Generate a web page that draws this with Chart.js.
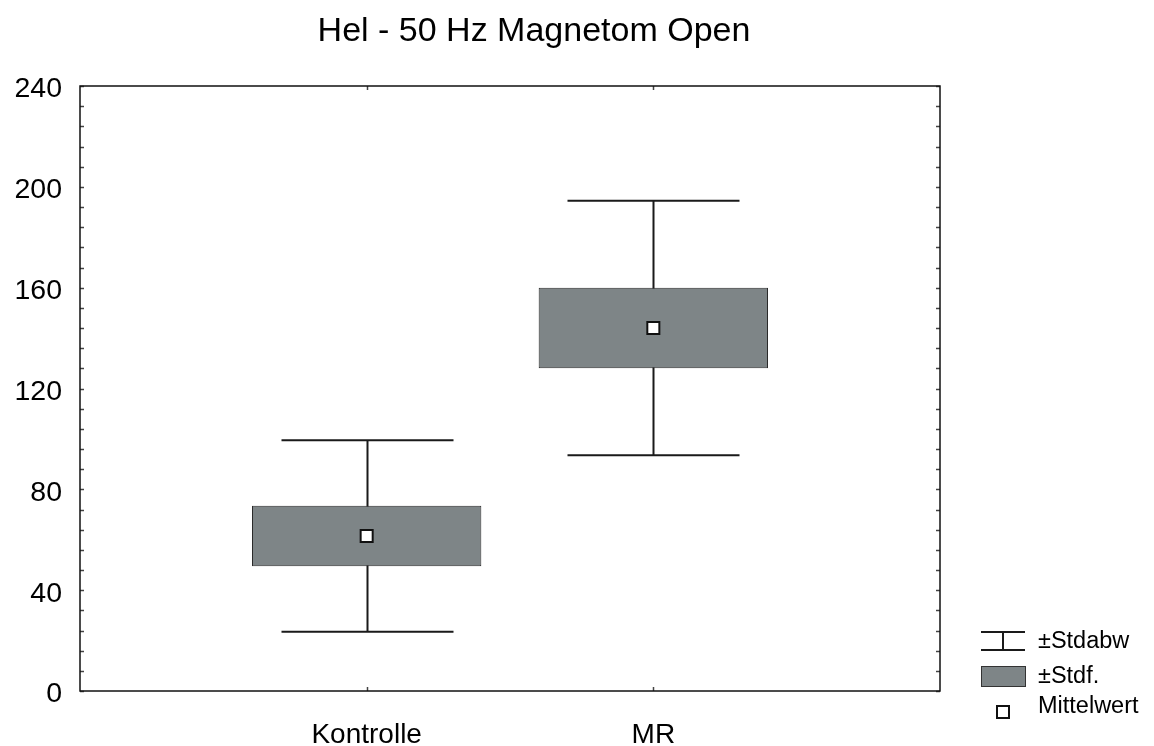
<!DOCTYPE html>
<html>
<head>
<meta charset="utf-8">
<title>Hel - 50 Hz Magnetom Open</title>
<script src="https://cdn.jsdelivr.net/npm/chart.js@4/dist/chart.umd.min.js"></script>
<style>
  body { margin: 0; background: #fff; }
  #wrap { width: 1154px; height: 746px; }
</style>
</head>
<body>
<div id="wrap"><canvas id="boxChart"></canvas></div>
<script>
// Data
const categories = ['Kontrolle', 'MR'];
const means = [61.5, 144];
const stdErr = [12, 16];     // box: mean ± Stdf.
const stdDev = [38, 50.5];   // whiskers: mean ± Stdabw
const yTicks = [0, 40, 80, 120, 160, 200, 240];
const minorStep = 8;
const legendLabels = ['±Stdabw', '±Stdf.', 'Mittelwert'];

const FONT = '"Liberation Sans", Arial, Helvetica, sans-serif';
const BOX_FILL = '#7e8587';

// category axis with an empty slot on each side so the groups sit at 1/3 and 2/3
const axisLabels = [''].concat(categories, ['']);
const pad = arr => [null].concat(arr, [null]);

const boxData = pad(means.map((m, i) => [m - stdErr[i], m + stdErr[i]]));
const meanData = pad(means);

// Whiskers, frame, inner ticks, title and legend
const extrasPlugin = {
  id: 'extras',
  beforeDatasetsDraw(chart) {
    const ctx = chart.ctx;
    const x = chart.scales.x, y = chart.scales.y;
    const half = (x.getPixelForValue(2) - x.getPixelForValue(1)) * 0.3;
    ctx.save();
    ctx.strokeStyle = '#1a1a1a';
    ctx.lineWidth = 2;
    means.forEach((m, i) => {
      const cx = Math.round(x.getPixelForValue(i + 1)) + 0.5;
      const top = y.getPixelForValue(m + stdDev[i]);
      const bot = y.getPixelForValue(m - stdDev[i]);
      ctx.beginPath();
      ctx.moveTo(cx, top); ctx.lineTo(cx, bot);
      ctx.moveTo(cx - half, top); ctx.lineTo(cx + half, top);
      ctx.moveTo(cx - half, bot); ctx.lineTo(cx + half, bot);
      ctx.stroke();
    });
    ctx.restore();
  },
  afterDraw(chart) {
    const ctx = chart.ctx;
    const a = chart.chartArea;
    const x = chart.scales.x, y = chart.scales.y;
    ctx.save();

    // inner ticks
    ctx.strokeStyle = '#444';
    ctx.lineWidth = 1.5;
    ctx.beginPath();
    for (let v = 0; v <= 240; v += minorStep) {
      const py = Math.round(y.getPixelForValue(v)) + 0.5;
      ctx.moveTo(a.left, py); ctx.lineTo(a.left + 4, py);
      ctx.moveTo(a.right, py); ctx.lineTo(a.right - 4, py);
    }
    categories.forEach((c, i) => {
      const px = Math.round(x.getPixelForValue(i + 1)) + 0.5;
      ctx.moveTo(px, a.top); ctx.lineTo(px, a.top + 4);
      ctx.moveTo(px, a.bottom); ctx.lineTo(px, a.bottom - 4);
    });
    ctx.stroke();

    // frame
    ctx.strokeStyle = '#111';
    ctx.lineWidth = 1.5;
    ctx.strokeRect(a.left, a.top, a.right - a.left, a.bottom - a.top);

    // title
    ctx.fillStyle = '#000';
    ctx.font = '34px ' + FONT;
    ctx.textAlign = 'center';
    ctx.textBaseline = 'alphabetic';
    ctx.fillText('Hel - 50 Hz Magnetom Open', 534, 41);

    // legend
    const lx = 981, tx = 1038;
    ctx.font = '23.5px ' + FONT;
    ctx.textAlign = 'left';
    ctx.textBaseline = 'middle';
    ctx.strokeStyle = '#1a1a1a';
    ctx.lineWidth = 2;
    ctx.beginPath();
    ctx.moveTo(lx, 632); ctx.lineTo(lx + 44, 632);
    ctx.moveTo(lx, 650); ctx.lineTo(lx + 44, 650);
    ctx.moveTo(lx + 22, 632); ctx.lineTo(lx + 22, 650);
    ctx.stroke();
    ctx.fillText(legendLabels[0], tx, 642);

    ctx.fillStyle = BOX_FILL;
    ctx.fillRect(lx, 666, 44, 20);
    ctx.strokeStyle = '#333';
    ctx.lineWidth = 1;
    ctx.strokeRect(lx + 0.5, 666.5, 44, 20);
    ctx.fillStyle = '#000';
    ctx.fillText(legendLabels[1], tx, 677);

    ctx.fillStyle = '#fff';
    ctx.fillRect(997, 706, 12, 12);
    ctx.strokeStyle = '#111';
    ctx.lineWidth = 2;
    ctx.strokeRect(997, 706, 12, 12);
    ctx.fillStyle = '#000';
    ctx.fillText(legendLabels[2], tx, 707);

    ctx.restore();
  }
};

const ctx = document.getElementById('boxChart').getContext('2d');
const boxChart = new Chart(ctx, {
  type: 'bar',
  data: {
    labels: axisLabels,
    datasets: [{
      label: '±Stdf.',
      data: boxData,
      backgroundColor: BOX_FILL,
      borderColor: '#2a2a2a',
      borderWidth: 1,
      borderSkipped: false,
      categoryPercentage: 1,
      barPercentage: 0.8,
      order: 2
    }, {
      type: 'line',
      label: 'Mittelwert',
      data: meanData,
      showLine: false,
      pointStyle: 'rect',
      pointRadius: 8.5,
      pointBackgroundColor: '#fff',
      pointBorderColor: '#111',
      pointBorderWidth: 2,
      order: 1
    }]
  },
  options: {
    responsive: true,
    maintainAspectRatio: false,
    animation: false,
    layout: { padding: { top: 86, right: 214, left: 0, bottom: 0 } },
    plugins: {
      legend: { display: false },
      tooltip: { enabled: false },
      title: { display: false }
    },
    scales: {
      x: {
        offset: false,
        grid: { display: false, drawTicks: false },
        border: { display: false },
        ticks: {
          color: '#000',
          font: { family: FONT, size: 28 },
          padding: 27,
          maxRotation: 0,
          autoSkip: false
        },
        afterFit(scale) { scale.height = 55; }
      },
      y: {
        min: 0,
        max: 240,
        grid: { display: false, drawTicks: false },
        border: { display: false },
        afterBuildTicks(scale) { scale.ticks = yTicks.map(v => ({ value: v })); },
        ticks: {
          color: '#000',
          font: { family: FONT, size: 28.5 },
          padding: 18,
          labelOffset: 3.5
        },
        afterFit(scale) { scale.width = 80; }
      }
    }
  },
  plugins: [extrasPlugin]
});
</script>
</body>
</html>
